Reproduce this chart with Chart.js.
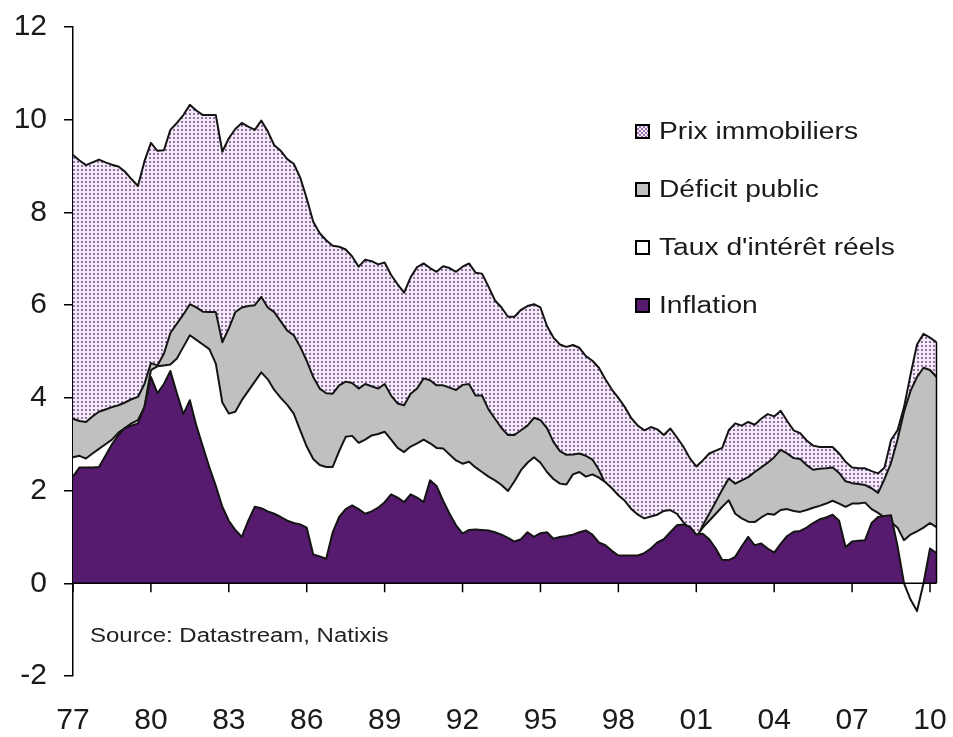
<!DOCTYPE html>
<html lang="fr">
<head>
  <meta charset="UTF-8" />
  <title>Contributions aux taux longs</title>
  <script src="https://cdn.jsdelivr.net/npm/chart.js"></script>
  <style>
    body { margin: 0; background: #fff; font-family: "Liberation Sans", Arial, sans-serif; }
    #wrap { position: relative; width: 953px; height: 737px; }
    #legende { position: absolute; left: 635px; top: 0; }
    .item { position: absolute; left: 0; white-space: nowrap; display: flex; align-items: center; }
    .box { width: 11px; height: 11px; border: 2.5px solid #000; margin-right: 9px; }
    .txt { font-size: 23.5px; color: #1a1a1a; transform: scaleX(1.2); transform-origin: left center; }
    #source { position: absolute; left: 90px; top: 624px; font-size: 19.5px; color: #222;
              transform: scaleX(1.23); transform-origin: left center; white-space: nowrap; }
  </style>
</head>
<body>
<div id="wrap">
  <canvas id="graphe" width="953" height="737"></canvas>
  <div id="legende"></div>
  <div id="source">Source: Datastream, Natixis</div>
</div>

<script>
  // trimestres 1977T1 -> 2010T2
  const quarters = [];
  for (let a = 1977; a <= 2010; a++) {
    for (let t = 1; t <= 4; t++) {
      if (a === 2010 && t > 2) break;
      quarters.push(a + "T" + t);
    }
  }
  const yearTicks = ['77', '80', '83', '86', '89', '92', '95', '98', '01', '04', '07', '10'];

  // niveaux (%)
  const prixImmobiliers = [
    9.24, 9.12, 9.02, 9.08, 9.14, 9.08, 9.03, 8.99, 8.88, 8.72,
    8.57, 9.1, 9.5, 9.33, 9.34, 9.78, 9.93, 10.1, 10.32, 10.2,
    10.1, 10.1, 10.1, 9.31, 9.6, 9.8, 9.93, 9.85, 9.78, 9.98,
    9.75, 9.45, 9.33, 9.15, 9.05, 8.75, 8.3, 7.8, 7.55, 7.4,
    7.28, 7.26, 7.2, 7.05, 6.83, 6.98, 6.95, 6.88, 6.92, 6.65,
    6.45, 6.27, 6.6, 6.82, 6.9, 6.8, 6.72, 6.84, 6.8, 6.72,
    6.83, 6.9, 6.7, 6.68, 6.4, 6.1, 5.95, 5.75, 5.75, 5.9,
    5.98, 6.02, 5.95, 5.55, 5.3, 5.15, 5.1, 5.14, 5.08, 4.9,
    4.8, 4.65, 4.4, 4.18, 4.0, 3.8, 3.56, 3.4, 3.3, 3.37,
    3.32, 3.2, 3.34, 3.15, 2.95, 2.7, 2.52, 2.65, 2.8, 2.86,
    2.92, 3.3, 3.45, 3.4, 3.48, 3.42, 3.55, 3.65, 3.6, 3.72,
    3.5, 3.3, 3.24, 3.08, 2.97, 2.94, 2.94, 2.94, 2.8, 2.62,
    2.5, 2.48, 2.48, 2.42, 2.37, 2.5, 3.09, 3.3, 3.8, 4.5,
    5.15, 5.38, 5.3, 5.2
  ];
  const deficitPublic = [
    3.55, 3.5, 3.48, 3.6, 3.7, 3.75, 3.8, 3.84, 3.9, 3.97,
    4.02, 4.3, 4.75, 4.7, 4.95, 5.4, 5.6, 5.8, 6.02, 5.95,
    5.86, 5.85, 5.85, 5.2, 5.5, 5.85, 5.95, 5.98, 6.0, 6.18,
    5.95, 5.85, 5.65, 5.45, 5.35, 5.1, 4.8, 4.45, 4.2, 4.1,
    4.09, 4.27, 4.35, 4.32, 4.2, 4.3, 4.25, 4.2, 4.3, 4.05,
    3.88, 3.84, 4.09, 4.2, 4.42, 4.38, 4.27, 4.27, 4.22, 4.17,
    4.28, 4.3, 4.05, 4.05, 3.75, 3.55, 3.35, 3.2, 3.2, 3.3,
    3.4, 3.57, 3.52, 3.35, 3.05, 2.85, 2.77, 2.78, 2.8, 2.75,
    2.67, 2.45, 2.15, 1.85, 1.7, 1.6, 1.4, 1.3, 1.2, 1.25,
    1.3, 1.35, 1.35, 1.3, 1.1, 1.0, 0.95, 1.25, 1.5, 1.76,
    2.02, 2.26, 2.15, 2.22, 2.29, 2.4, 2.5, 2.6, 2.72, 2.88,
    2.8, 2.7, 2.68, 2.55, 2.45, 2.47, 2.48, 2.5, 2.38, 2.2,
    2.16, 2.14, 2.12, 2.05, 1.95, 2.25, 2.6, 3.1, 3.7, 4.15,
    4.45, 4.65, 4.6, 4.45
  ];
  const tauxReels = [
    2.72, 2.75, 2.69, 2.8, 2.9, 3.0, 3.1, 3.25, 3.35, 3.45,
    3.52, 3.8, 4.6, 4.68, 4.7, 4.72, 4.85, 5.1, 5.35, 5.25,
    5.15, 5.05, 4.74, 3.9, 3.66, 3.7, 3.95, 4.15, 4.35, 4.55,
    4.4, 4.17, 4.0, 3.85, 3.66, 3.3, 2.95, 2.68, 2.55, 2.51,
    2.51, 2.85, 3.16, 3.18, 3.03, 3.1, 3.19, 3.22, 3.27, 3.1,
    2.92, 2.83, 2.95, 3.02, 3.1, 3.02, 2.92, 2.91, 2.78, 2.65,
    2.58, 2.62, 2.5, 2.4, 2.3, 2.22, 2.12, 1.99, 2.2, 2.44,
    2.6, 2.72, 2.6, 2.4, 2.25, 2.15, 2.13, 2.35, 2.4, 2.3,
    2.35, 2.28, 2.18, 2.05, 1.9, 1.78, 1.6, 1.48, 1.4, 1.44,
    1.48, 1.56, 1.58, 1.5, 1.32, 1.18, 1.0, 1.2, 1.35, 1.5,
    1.65, 1.79, 1.5, 1.4, 1.33, 1.32, 1.42, 1.5, 1.48, 1.58,
    1.6, 1.56, 1.54, 1.58, 1.63, 1.67, 1.72, 1.78, 1.72, 1.65,
    1.72, 1.72, 1.74, 1.6, 1.52, 1.42, 1.32, 1.2, 0.93, 1.05,
    1.12, 1.2, 1.3, 1.21
  ];
  const inflation = [
    2.3, 2.5, 2.5, 2.5, 2.51, 2.75, 3.0, 3.2, 3.35, 3.4,
    3.45, 3.8, 4.45, 4.1, 4.3, 4.58, 4.1, 3.65, 3.95, 3.4,
    2.95, 2.5, 2.1, 1.65, 1.35, 1.15, 1.0, 1.35, 1.65, 1.62,
    1.55, 1.5, 1.43, 1.35, 1.3, 1.27, 1.2, 0.62, 0.58, 0.53,
    1.1, 1.43, 1.6, 1.68, 1.6, 1.5, 1.55, 1.63, 1.75, 1.92,
    1.85, 1.75, 1.92, 1.85, 1.75, 2.22, 2.1, 1.78, 1.5, 1.25,
    1.07, 1.15, 1.16, 1.15, 1.14, 1.1, 1.05, 0.98, 0.9, 0.95,
    1.1, 1.0, 1.08, 1.1, 0.96, 1.0, 1.02, 1.05, 1.1, 1.14,
    1.05, 0.88, 0.82, 0.7, 0.6, 0.6, 0.6, 0.6, 0.65, 0.75,
    0.88, 0.95, 1.1, 1.25, 1.27, 1.22, 1.05, 1.07, 0.95, 0.75,
    0.5, 0.5, 0.57, 0.8, 1.0, 0.82, 0.86, 0.75, 0.66, 0.85,
    1.02, 1.11, 1.13, 1.2, 1.3, 1.38, 1.42, 1.48, 1.35, 0.78,
    0.9, 0.92, 0.93, 1.3, 1.43, 1.45, 1.47, 0.8, 0.0, -0.35,
    -0.6, 0.0, 0.75, 0.65
  ];

  const violet = '#561b6e';
  const gris = '#c0c0c0';

  // motif pointillé pour les prix immobiliers
  function motifPoints() {
    const c = document.createElement('canvas');
    c.width = 4; c.height = 4;
    const g = c.getContext('2d');
    g.fillStyle = '#f2ecf5';
    g.fillRect(0, 0, 4, 4);
    g.fillStyle = '#9a6cb0';
    g.fillRect(1, 1, 2, 2);
    return g.createPattern(c, 'repeat');
  }

  // axe horizontal en zéro + bord droit des aires
  const axeZero = {
    id: 'axeZero',
    afterDatasetsDraw(chart) {
      const { ctx, chartArea, scales: { x, y } } = chart;
      const y0 = y.getPixelForValue(0);
      const last = quarters.length - 1;
      const xl = x.getPixelForValue(last);
      const haut = Math.max(prixImmobiliers[last], deficitPublic[last], tauxReels[last], inflation[last]);
      ctx.save();
      ctx.strokeStyle = '#000';
      ctx.lineWidth = 1.5;
      ctx.beginPath();
      ctx.moveTo(xl, y.getPixelForValue(haut));
      ctx.lineTo(xl, y0);
      ctx.stroke();
      ctx.beginPath();
      ctx.moveTo(chartArea.left, y0);
      ctx.lineTo(chartArea.right, y0);
      for (let i = 0; i < quarters.length; i += 12) {
        const px = x.getPixelForValue(i);
        ctx.moveTo(px, y0);
        ctx.lineTo(px, y0 + 9);
      }
      ctx.stroke();
      ctx.restore();
    }
  };

  Chart.defaults.font.family = '"Liberation Sans", Arial, sans-serif';
  Chart.defaults.color = '#1a1a1a';

  const commun = { pointRadius: 0, borderWidth: 2, borderColor: '#141414', tension: 0, borderJoinStyle: 'round' };

  new Chart(document.getElementById('graphe'), {
    type: 'line',
    data: {
      labels: quarters,
      datasets: [
        { ...commun, label: 'Inflation', data: inflation, backgroundColor: violet,
          fill: { target: 'origin', above: violet, below: '#ffffff' } },
        { ...commun, label: "Taux d'intérêt réels", data: tauxReels, backgroundColor: '#ffffff', fill: 'origin' },
        { ...commun, label: 'Déficit public', data: deficitPublic, backgroundColor: gris, fill: 'origin' },
        { ...commun, label: 'Prix immobiliers', data: prixImmobiliers, backgroundColor: motifPoints(), fill: 'origin' }
      ]
    },
    options: {
      responsive: false,
      animation: false,
      layout: { padding: { left: 0, right: 16.5, top: 27, bottom: 1 } },
      plugins: { legend: { display: false }, tooltip: { enabled: false } },
      scales: {
        x: {
          type: 'category',
          offset: false,
          grid: { display: false, drawTicks: false },
          border: { display: false },
          afterFit: (s) => { s.height = 60; s.paddingLeft = 0; s.paddingRight = 0; },
          ticks: {
            autoSkip: false, maxRotation: 0, padding: 27,
            font: { size: 30 },
            callback: (v, i) => (i % 12 === 0 ? yearTicks[i / 12] : '')
          }
        },
        y: {
          min: -2, max: 12,
          afterFit: (s) => { s.width = 73; s.paddingTop = 0; s.paddingBottom = 0; },
          ticks: { stepSize: 2, padding: 17, font: { size: 30 } },
          grid: { display: true, drawOnChartArea: false, drawTicks: true, tickLength: 9, color: '#000', lineWidth: 1.5 },
          border: { display: true, color: '#000', width: 1.5 }
        }
      }
    },
    plugins: [axeZero]
  });

  // légende
  const legende = [
    { nom: 'Prix immobiliers', couleur: null, y: 131 },
    { nom: 'Déficit public', couleur: gris, y: 189 },
    { nom: "Taux d'intérêt réels", couleur: '#ffffff', y: 247 },
    { nom: 'Inflation', couleur: violet, y: 305 }
  ];
  const boite = document.getElementById('legende');
  legende.forEach((e) => {
    const d = document.createElement('div');
    d.className = 'item';
    d.style.top = (e.y - 15) + 'px';
    d.style.height = '30px';
    const b = document.createElement('div');
    b.className = 'box';
    if (e.couleur) b.style.background = e.couleur;
    else b.style.background = 'repeating-conic-gradient(#9a6cb0 0 25%, #f2ecf5 0 50%) 0 0 / 4px 4px';
    const t = document.createElement('span');
    t.className = 'txt';
    t.textContent = e.nom;
    d.appendChild(b);
    d.appendChild(t);
    boite.appendChild(d);
  });
</script>
</body>
</html>
